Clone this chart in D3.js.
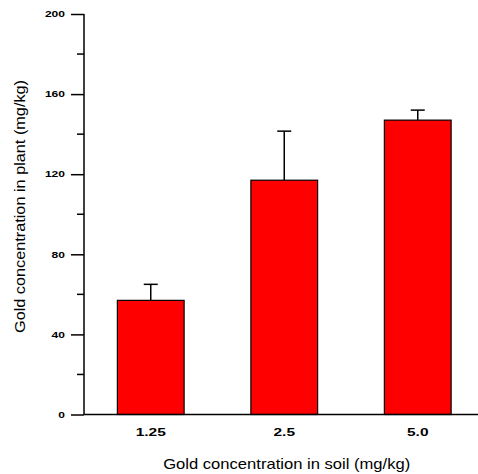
<!DOCTYPE html>
<html>
<head>
<meta charset="utf-8">
<script src="https://cdn.jsdelivr.net/npm/d3@7"></script>
<style>
  body { margin: 0; background: #fff; }
  text { font-family: "Liberation Sans", Arial, sans-serif; }
</style>
</head>
<body>
<div id="chart"></div>
<script>
// soil concentration groups and plant uptake (mean, error)
var categories = ['1.25', '2.5', '5.0'];
var means = [57, 117, 147];
var errors = [8, 24.5, 5];
var yTicks = [0, 40, 80, 120, 160, 200];
var yMinorTicks = [20, 60, 100, 140, 180];

var W = 478, H = 474;
var svg = d3.select('#chart').append('svg')
    .attr('width', W)
    .attr('height', H);

var x = d3.scaleBand()
    .domain(categories)
    .range([84, 484.5])
    .paddingInner(0.5)
    .paddingOuter(0.25);

var y = d3.scaleLinear()
    .domain([0, 200])
    .range([414.5, 14]);

// the original text is stretched sideways, so widths are set per label
function wide(sel, perChar){
    sel.attr('textLength', function(){ return this.textContent.length * perChar; })
        .attr('lengthAdjust', 'spacingAndGlyphs');
}

// bars
svg.selectAll('rect.bar')
    .data(means)
    .enter().append('rect')
    .attr('class', 'bar')
    .attr('x', function(d, i){ return x(categories[i]); })
    .attr('y', function(d){ return y(d); })
    .attr('width', x.bandwidth())
    .attr('height', function(d){ return y(0) - y(d); })
    .attr('fill', '#ff0000')
    .attr('stroke', '#000')
    .attr('stroke-width', 1.2);

// error bars (upper only)
var eb = svg.selectAll('g.err')
    .data(means)
    .enter().append('g')
    .attr('class', 'err');

eb.append('line')
    .attr('x1', function(d, i){ return x(categories[i]) + x.bandwidth() / 2; })
    .attr('x2', function(d, i){ return x(categories[i]) + x.bandwidth() / 2; })
    .attr('y1', function(d){ return y(d); })
    .attr('y2', function(d, i){ return y(d + errors[i]); })
    .attr('stroke', '#000')
    .attr('stroke-width', 1.5);

eb.append('line')
    .attr('x1', function(d, i){ return x(categories[i]) + x.bandwidth() / 2 - 7; })
    .attr('x2', function(d, i){ return x(categories[i]) + x.bandwidth() / 2 + 7; })
    .attr('y1', function(d, i){ return y(d + errors[i]); })
    .attr('y2', function(d, i){ return y(d + errors[i]); })
    .attr('stroke', '#000')
    .attr('stroke-width', 1.5);

// y axis
var yAxis = svg.append('g')
    .attr('transform', 'translate(84,0)')
    .call(d3.axisLeft(y).tickValues(yTicks).tickSize(13).tickPadding(6));
yAxis.selectAll('text')
    .attr('font-size', 8.5)
    .attr('font-weight', 'bold')
    .attr('fill', '#000')
    .call(wide, 6.7);
yAxis.select('.domain').remove();
yAxis.selectAll('.tick line').attr('stroke-width', 1.5);

svg.append('g')
    .attr('transform', 'translate(84,0)')
    .selectAll('line')
    .data(yMinorTicks)
    .enter().append('line')
    .attr('x1', -7)
    .attr('x2', 0)
    .attr('y1', function(d){ return y(d); })
    .attr('y2', function(d){ return y(d); })
    .attr('stroke', '#000')
    .attr('stroke-width', 1.5);

svg.append('line')
    .attr('x1', 84).attr('x2', 84)
    .attr('y1', y(200)).attr('y2', y(0))
    .attr('stroke', '#000')
    .attr('stroke-width', 1.5);

// x axis
svg.append('line')
    .attr('x1', 84).attr('x2', 478)
    .attr('y1', y(0)).attr('y2', y(0))
    .attr('stroke', '#000')
    .attr('stroke-width', 1.5);

svg.selectAll('text.xlab')
    .data(categories)
    .enter().append('text')
    .attr('class', 'xlab')
    .attr('x', function(d){ return x(d) + x.bandwidth() / 2; })
    .attr('y', 435.5)
    .attr('text-anchor', 'middle')
    .attr('font-size', 11.5)
    .attr('font-weight', 'bold')
    .attr('fill', '#000')
    .text(function(d){ return d; })
    .attr('textLength', function(d){ return d.replace('.', '').length * 8.6 + 4.3; })
    .attr('lengthAdjust', 'spacingAndGlyphs');

// titles
svg.append('text')
    .attr('x', 286.7)
    .attr('y', 469)
    .attr('text-anchor', 'middle')
    .attr('font-size', 15)
    .attr('textLength', 247)
    .attr('lengthAdjust', 'spacingAndGlyphs')
    .text('Gold concentration in soil (mg/kg)');

svg.append('text')
    .attr('transform', 'translate(25,206.5) rotate(-90)')
    .attr('text-anchor', 'middle')
    .attr('font-size', 14.5)
    .attr('textLength', 253)
    .attr('lengthAdjust', 'spacingAndGlyphs')
    .text('Gold concentration in plant (mg/kg)');
</script>
</body>
</html>
